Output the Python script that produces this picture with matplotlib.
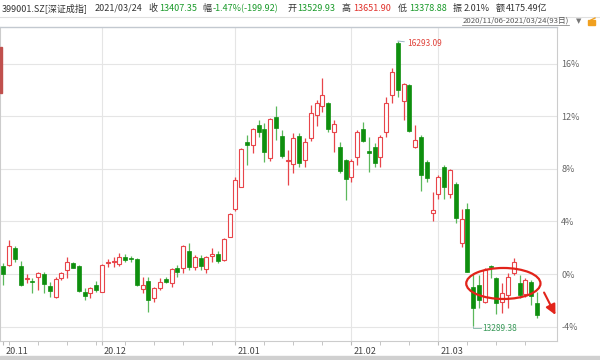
import numpy as np
import pandas as pd
import matplotlib
matplotlib.use('Agg')
import matplotlib.pyplot as plt
import matplotlib.transforms as mtrans
from matplotlib.patches import Ellipse, Rectangle
from matplotlib.lines import Line2D

plt.rcParams['font.family'] = ['Noto Sans CJK SC', 'DejaVu Sans']

# --- trading days 2020/11/06 - 2021/03/24 (93 days) ---
days = pd.bdate_range('2020-11-06', '2021-03-24')
holidays = pd.to_datetime(['2021-01-01', '2021-02-11', '2021-02-12',
                           '2021-02-15', '2021-02-16', '2021-02-17'])
days = days[~days.isin(holidays)]

# --- daily OHLC of 399001.SZ ---
open_ = [13925, 13933, 14115, 13925, 13785, 13764, 13810, 13835, 13712, 13599,
         13793, 13880, 13951, 13925, 13651, 13635, 13722, 13651, 13951, 13961,
         13940, 14020, 14010, 13996, 13680, 13767, 13582, 13687, 13782, 13746,
         13904, 13898, 14084, 13915, 14003, 13888, 14028, 14049, 13989, 14231,
         14520, 14758, 15232, 15198, 15408, 15363, 15057, 15496, 15293, 15029,
         14997, 15289, 15036, 15268, 15514, 15609, 15643, 15338, 15173, 15040,
         14857, 15068, 15363, 15138, 15173, 15074, 15338, 15725, 16270, 15665,
         15830, 15180, 15285, 15022, 14484, 14681, 14963, 14681, 14787, 14162,
         14520, 13704, 13722, 13546, 13925, 13793, 13546, 13617, 13852, 13740,
         13627, 13757, 13529.93]
high = [13951, 14196, 14136, 13975, 13835, 13793, 13856, 13856, 13751, 13810,
        13862, 14014, 13961, 13933, 13687, 13704, 13764, 13940, 13993, 14020,
        14056, 14046, 14031, 14003, 13810, 13810, 13704, 13793, 13810, 13898,
        13933, 14144, 14168, 14038, 14038, 14031, 14109, 14084, 14214, 14478,
        14857, 15163, 15303, 15374, 15461, 15426, 15479, 15609, 15356, 15145,
        15321, 15321, 15268, 15619, 15672, 15901, 15654, 15461, 15232, 15047,
        15047, 15356, 15443, 15285, 15216, 15303, 15707, 16006, 16293.09, 15854,
        15841, 15408, 15308, 15040, 14705, 14881, 14987, 14941, 14808, 14520,
        14589, 13845, 13827, 13901, 13933, 13810, 13740, 13845, 14003, 13827,
        13793, 13775, 13651.90]
low = [13722, 13925, 13961, 13715, 13740, 13635, 13669, 13635, 13599, 13588,
       13775, 13799, 13898, 13651, 13564, 13582, 13651, 13648, 13915, 13915,
       13925, 13968, 13968, 13715, 13635, 13441, 13546, 13669, 13740, 13704,
       13810, 13845, 13880, 13880, 13880, 13845, 13968, 13957, 13978, 14225,
       14505, 14752, 14987, 15110, 15285, 15022, 15032, 15250, 15057, 14776,
       14899, 14969, 14969, 15243, 15398, 15549, 15338, 15127, 14906, 14618,
       14811, 14987, 15232, 14916, 14963, 14963, 15279, 15643, 15707, 15461,
       15338, 15163, 14716, 14811, 14400, 14625, 14625, 14636, 14372, 14126,
       13859, 13289.38, 13476, 13529, 13793, 13416, 13424, 13476, 13827, 13582,
       13599, 13511, 13378.88]
close = [13838, 14136, 13996, 13722, 13796, 13751, 13845, 13729, 13659, 13785,
         13845, 13961, 13904, 13659, 13606, 13694, 13669, 13933, 13968, 13975,
         14020, 13986, 13996, 13722, 13722, 13564, 13687, 13757, 13754, 13888,
         13862, 14133, 13909, 14014, 13919, 14014, 14049, 13978, 14204, 14470,
         14829, 15152, 15198, 15363, 15338, 15127, 15469, 15374, 15082, 15040,
         15268, 15011, 15232, 15532, 15637, 15725, 15363, 15419, 14927, 14836,
         15032, 15338, 15243, 15117, 15011, 15279, 15637, 15970, 15777, 15841,
         15348, 15250, 14881, 14847, 14513, 14864, 14758, 14934, 14425, 14415,
         13862, 13476, 13564, 13880, 13909, 13529, 13641, 13810, 13968, 13617,
         13775, 13607.27, 13407.35]

pct_ticks = [-4, 0, 4, 8, 12, 16]
month_labels = ['20.11', '20.12', '21.01', '21.02', '21.03']

o = np.array(open_); h = np.array(high); l = np.array(low); c = np.array(close)
idx = np.arange(len(days))
base = c[0]

RED = '#e8454a'
GREEN = '#0e8f0e'
GREEN_W = '#5cb85c'

fig = plt.figure(figsize=(6, 3.6), dpi=100)
ax = fig.add_axes([0, 19 / 360, 557 / 600, 314 / 360])

up = c >= o
# wicks
ax.vlines(idx[up], l[up], h[up], color=RED, lw=0.9, zorder=2)
ax.vlines(idx[~up], l[~up], h[~up], color=GREEN_W, lw=0.9, zorder=2)
# bodies
bw = 0.68
body_lo = np.minimum(o, c)
body_h = np.maximum(np.abs(c - o), 4)
ax.bar(idx[up], body_h[up], bw, bottom=body_lo[up], facecolor='white',
       edgecolor=RED, lw=0.8, zorder=3)
ax.bar(idx[~up], body_h[~up], bw, bottom=body_lo[~up], facecolor=GREEN,
       edgecolor=GREEN, lw=0.5, zorder=3)

# axes limits / ticks
ax.set_xlim(-3.4 / 5.8, 557 / 5.8 - 3.4 / 5.8)
ax.set_ylim(base * (1 - 5.10 / 100), base * (1 + 18.81 / 100))
ax.yaxis.tick_right()
ax.set_yticks([base * (1 + p / 100) for p in pct_ticks])
ax.set_yticklabels([f'{p}%' for p in pct_ticks])
ax.tick_params(axis='y', length=0, pad=3, labelsize=6.5, labelcolor='#666666')

month_start = [0] + [i for i in range(1, len(days)) if days[i].month != days[i - 1].month]
mondays = [i for i in range(len(days)) if days[i].weekday() == 0 and i not in month_start]
ax.set_xticks(month_start)
ax.set_xticklabels(month_labels)
ax.set_xticks(mondays, minor=True)
ax.tick_params(axis='x', which='both', direction='out', length=3, color='#bbbbbb',
               pad=1, labelsize=6.5, labelcolor='#444444')
shift = mtrans.ScaledTranslation(1.5 / 72, 0, fig.dpi_scale_trans)
for lbl in ax.get_xticklabels():
    lbl.set_horizontalalignment('left')
    lbl.set_transform(lbl.get_transform() + shift)

for p in pct_ticks:
    ax.axhline(base * (1 + p / 100), color='#e5e5e5', lw=0.8, zorder=0)
for i in month_start[1:]:
    ax.axvline(i, color='#e5e5e5', lw=0.8, zorder=0)

for side in ['left', 'right', 'bottom']:
    ax.spines[side].set_color('#cccccc')
    ax.spines[side].set_linewidth(0.8)
ax.spines['top'].set_color('#c3c9d0')
ax.spines['top'].set_linewidth(1.0)

# high / low markers
ih = int(np.argmax(h)); il = int(np.argmin(l))
ax.annotate(f'{h[ih]:.2f}', xy=(ih, h[ih]), xytext=(ih + 1.6, h[ih] - 30),
            color='#e0443c', fontsize=6, va='center', ha='left',
            arrowprops=dict(arrowstyle='-', color='#9fb7c8', lw=0.7, shrinkA=0, shrinkB=0))
ax.plot([il, il, il + 1.4], [l[il], l[il] - 25, l[il] - 25], color='#8fbfb0', lw=0.7, zorder=4)
ax.text(il + 1.6, l[il] - 25, f'{l[il]:.2f}', color='#3a9a5a', fontsize=6, va='center', ha='left')

# red ellipse and arrow
ax.add_patch(Ellipse((86.2, base * (1 - 0.72 / 100)), 12.8, base * 2.36 / 100,
                     fill=False, edgecolor='#e2231a', lw=1.6, zorder=5))
ax.annotate('', xy=(95.4, base * (1 - 3.30 / 100)), xytext=(93.0, base * (1 - 1.22 / 100)),
            arrowprops=dict(arrowstyle='-|>,head_length=0.6,head_width=0.3',
                            color='#e2231a', lw=1.5), annotation_clip=False)

# header
def px(x, y):
    return x / 600, 1 - y / 360

DARK = '#333333'
GR = '#1a9a2a'
RD = '#e0302a'
header = [(2, '399001.SZ[深证成指]', DARK), (95, '2021/03/24', DARK), (148, '收', DARK),
          (159, '13407.35', GR), (202, '幅', DARK), (213, '-1.47%(-199.92)', GR),
          (287, '开', DARK), (297, '13529.93', GR), (342, '高', DARK),
          (353, '13651.90', RD), (398, '低', DARK), (409, '13378.88', GR),
          (453, '振', DARK), (464, '2.01%', DARK), (496, '额', DARK), (506, '4175.49亿', DARK)]
for x, s, col in header:
    fig.text(*px(x, 8.5), s, color=col, fontsize=6.5, va='center', ha='left')

fig.add_artist(Line2D([0, 1], [1 - 16.5 / 360] * 2, color='#e0e0e0', lw=0.8))
fig.text(*px(569, 21), '2020/11/06-2021/03/24(93日)', color='#555555', fontsize=5.6,
         va='center', ha='right')
fig.add_artist(Line2D([462 / 600, 569 / 600], [1 - 24.5 / 360] * 2, color='#777777', lw=0.5))
fig.text(*px(576, 21), '▼', color='#777777', fontsize=5, va='center', ha='left',
         family='DejaVu Sans')
fig.add_artist(Rectangle(px(588, 25), 7 / 600, 5 / 360, color='#f0a020'))
fig.add_artist(Line2D([591 / 600, 595 / 600], [1 - 20 / 360, 1 - 18 / 360], color='#f0a020', lw=1))

# left edge marker and bottom band
fig.add_artist(Rectangle(px(0, 93), 1.5 / 600, 46 / 360, color='#c0504d'))
fig.add_artist(Rectangle((0, 0), 1, 4 / 360, color='#d0d0d0'))

fig.savefig('out.png', dpi=100)
